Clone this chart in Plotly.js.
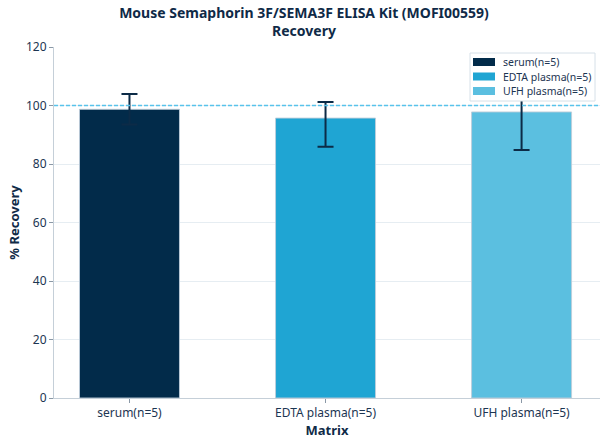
<!DOCTYPE html>
<html>
<head>
<meta charset="utf-8">
<script src="https://cdn.plot.ly/plotly-3.0.1.min.js"></script>
<style>html,body{margin:0;padding:0;background:#fff}#chart{width:608px;height:444px}</style>
</head>
<body>
<div id="chart"></div>
<script>
const categories = ["serum(n=5)", "EDTA plasma(n=5)", "UFH plasma(n=5)"];
const recovery = [98.7, 95.7, 97.8];
const errPlus = [5.2, 5.5, 13.0];
const errMinus = [5.2, 9.8, 13.0];
const colors = ["#022b4a", "#1fa5d3", "#5bbfe0"];
const referenceLine = 100;

const W = 608, H = 444;
const M = {l: 54, r: 8, t: 47, b: 46};
const pw = W - M.l - M.r, ph = H - M.t - M.b;
const px = x => (x - M.l) / pw;          // pixel -> paper x
const py = y => (H - M.b - y) / ph;      // pixel -> paper y

const traces = categories.map((c, i) => ({
  type: "bar",
  name: c,
  x: [c],
  y: [recovery[i]],
  width: 0.51,
  showlegend: false,
  marker: {color: colors[i], line: {color: "rgba(190,205,218,0.9)", width: 1}},
  error_y: {type: "data", symmetric: false, array: [errPlus[i]], arrayminus: [errMinus[i]],
            color: "#0c2b47", thickness: 2, width: 8}
}));

// custom legend (box, swatches, labels)
const shapes = [{type: "line", xref: "paper", x0: 0, x1: 1, yref: "y", y0: referenceLine, y1: referenceLine,
                 line: {color: "rgb(88,195,235)", width: 1.3, dash: "4px,2px"}, layer: "above"},
                {type: "rect", xref: "paper", yref: "paper", x0: px(470), x1: px(595), y0: py(101), y1: py(53),
                 line: {color: "#d6e0e8", width: 1}, fillcolor: "#ffffff", layer: "above"}];
const annotations = [];
const rowY = [62, 76.5, 91];
categories.forEach((c, i) => {
  shapes.push({type: "rect", xref: "paper", yref: "paper", x0: px(473), x1: px(495),
               y0: py(rowY[i] + 4), y1: py(rowY[i] - 4), fillcolor: colors[i], line: {width: 0}, layer: "above"});
  annotations.push({xref: "paper", yref: "paper", x: px(501), y: py(rowY[i]), xanchor: "left", yanchor: "middle",
                    text: c, showarrow: false, font: {size: 10.5, color: "#1c3552"}});
});

const layout = {
  width: W, height: H,
  margin: M,
  paper_bgcolor: "#fff", plot_bgcolor: "#fff",
  font: {family: "Noto Sans, Open Sans, sans-serif", size: 12, color: "#1c3552"},
  title: {text: "<b>Mouse Semaphorin 3F/SEMA3F ELISA Kit (MOFI00559)<br>Recovery</b>",
          x: 0.5, xanchor: "center", yref: "container", y: 1 - 18 / H, yanchor: "middle",
          font: {size: 14, color: "#0f2a47"}},
  showlegend: false,
  xaxis: {type: "category", range: [-0.385, 2.4],
          title: {text: "<b>Matrix</b>", font: {size: 13, color: "#0f2a47"}, standoff: 0},
          showline: true, linecolor: "#c5cfd8", linewidth: 1,
          ticks: "outside", ticklen: 4, tickcolor: "#8a98a6",
          tickfont: {size: 12, color: "#1c3552"}, showgrid: false},
  yaxis: {range: [0, 120], dtick: 20,
          title: {text: "<b>% Recovery</b>", font: {size: 13, color: "#0f2a47"}, standoff: 3},
          showline: true, linecolor: "#c5cfd8", linewidth: 1,
          ticks: "outside", ticklen: 4, tickcolor: "#8a98a6",
          tickfont: {size: 12, color: "#1c3552"},
          showgrid: true, gridcolor: "#e6edf2", gridwidth: 1, zeroline: false},
  shapes: shapes,
  annotations: annotations
};

Plotly.newPlot("chart", traces, layout, {displayModeBar: false, staticPlot: true});
</script>
</body>
</html>
